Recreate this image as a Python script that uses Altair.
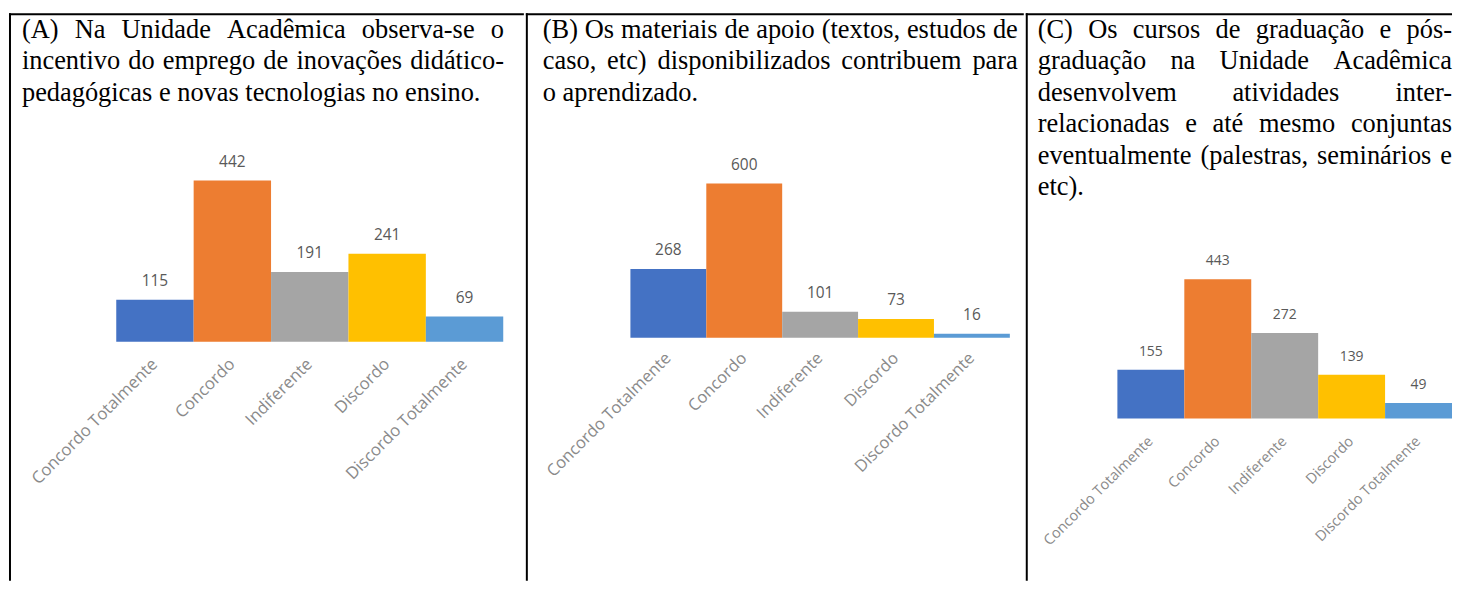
import altair as alt
import pandas as pd

# ---------------- data ----------------
categories = ["Concordo Totalmente", "Concordo", "Indiferente", "Discordo", "Discordo Totalmente"]
values_a = [115, 442, 191, 241, 69]
values_b = [268, 600, 101, 73, 16]
values_c = [155, 443, 272, 139, 49]
colors = ["#4472C4", "#ED7D31", "#A5A5A5", "#FFC000", "#5B9BD5"]

title_a = [
    "(A) Na Unidade Acadêmica observa-se o",
    "incentivo do emprego de inovações didático-",
    "pedagógicas e novas tecnologias no ensino.",
]
title_b = [
    "(B) Os materiais de apoio (textos, estudos de",
    "caso, etc) disponibilizados contribuem para",
    "o aprendizado.",
]
title_c = [
    "(C) Os cursos de graduação e pós-",
    "graduação na Unidade Acadêmica",
    "desenvolvem atividades inter-",
    "relacionadas e até mesmo conjuntas",
    "eventualmente (palestras, seminários e",
    "etc).",
]

# Times-compatible advance widths (1/1000 em) used to justify the text lines
TIMES = {
    " ": 250, "(": 333, ")": 333, "-": 333, ".": 250, ",": 250,
    "A": 722, "B": 667, "C": 667, "N": 722, "U": 722, "O": 722,
    "a": 444, "b": 500, "c": 444, "d": 500, "e": 444, "f": 333, "g": 500,
    "h": 500, "i": 278, "j": 278, "k": 500, "l": 278, "m": 778, "n": 500,
    "o": 500, "p": 500, "q": 500, "r": 333, "s": 389, "t": 278, "u": 500,
    "v": 500, "w": 722, "x": 500, "y": 500, "z": 444,
    "ê": 444, "ç": 444, "õ": 500, "á": 444, "ó": 500, "é": 444, "ã": 444,
}
TFS = 26.5
one = pd.DataFrame({"k": [0]})


def tw(s):
    return sum(TIMES.get(ch, 500) for ch in s) / 1000.0 * TFS


def word(w, x, y, align):
    return alt.Chart(one).mark_text(
        text=w, align=align, baseline="alphabetic",
        font="Liberation Serif", fontSize=TFS, color="black",
    ).encode(x=alt.value(x), y=alt.value(y))


def title_layers(lines, left, right, y0=28.5, dy=31.7):
    out = []
    for i, line in enumerate(lines):
        y = y0 + i * dy
        words = line.split(" ")
        if i == len(lines) - 1 or len(words) == 1:
            out.append(word(line, left, y, "left"))
            continue
        widths = [tw(w) for w in words]
        gap = (right - left - sum(widths)) / (len(words) - 1)
        x = left
        for j, w in enumerate(words):
            if j == len(words) - 1:
                out.append(word(w, right, y, "right"))
            else:
                out.append(word(w, x, y, "left"))
            x += widths[j] + gap
    return out


def panel(values, title, W, H, x0, x1, base, top, vmax,
          tleft, tright, fsv, fsl, label_y):
    df = pd.DataFrame({"cat": categories, "val": values})
    xs = alt.X("cat:N", sort=categories,
               scale=alt.Scale(domain=categories, range=[x0, x1],
                               paddingInner=0, paddingOuter=0),
               axis=None)
    ys = alt.Y("val:Q", scale=alt.Scale(domain=[0, vmax], range=[base, top],
                                        nice=False, zero=True),
               axis=None)
    bars = alt.Chart(df).mark_bar().encode(
        x=xs, y=ys,
        color=alt.Color("cat:N", scale=alt.Scale(domain=categories, range=colors),
                        legend=None),
    )
    vals = alt.Chart(df).mark_text(
        baseline="alphabetic", dy=-14, font="Open Sans", fontSize=fsv, color="#595959"
    ).encode(x=xs, y=ys, text="val:Q")
    labs = alt.Chart(df).mark_text(
        angle=315, align="right", baseline="middle", font="Open Sans",
        fontSize=fsl, color="#8a8a8a"
    ).encode(x=xs, y=alt.value(label_y), text="cat:N")

    left_rule = alt.Chart(one).mark_rule(color="black", strokeWidth=2).encode(
        x=alt.value(1), y=alt.value(4), y2=alt.value(H))
    top_rule = alt.Chart(one).mark_rule(color="black", strokeWidth=2).encode(
        x=alt.value(0), x2=alt.value(W), y=alt.value(5))

    layers = [left_rule, top_rule, bars, vals, labs] + title_layers(title, tleft, tright)
    return alt.layer(*layers).properties(width=W, height=H)


H = 574
pa = panel(values_a, title_a, 517, H, 107.7, 496.3, 334, 172, 442,
           13, 497, 15.5, 16.8, 354)
pb = panel(values_b, title_b, 500, H, 105, 486, 330, 175, 600,
           17, 494, 15.5, 16.6, 348)
pc = panel(values_c, title_c, 428, H, 92, 428, 411, 271.3, 443,
           12, 428, 14, 14.6, 432)

chart = alt.hconcat(pa, pb, pc, spacing=0).properties(padding=0).configure_view(
    stroke=None
)

chart.save("out.html", embed_options={"renderer": "svg", "actions": False})
